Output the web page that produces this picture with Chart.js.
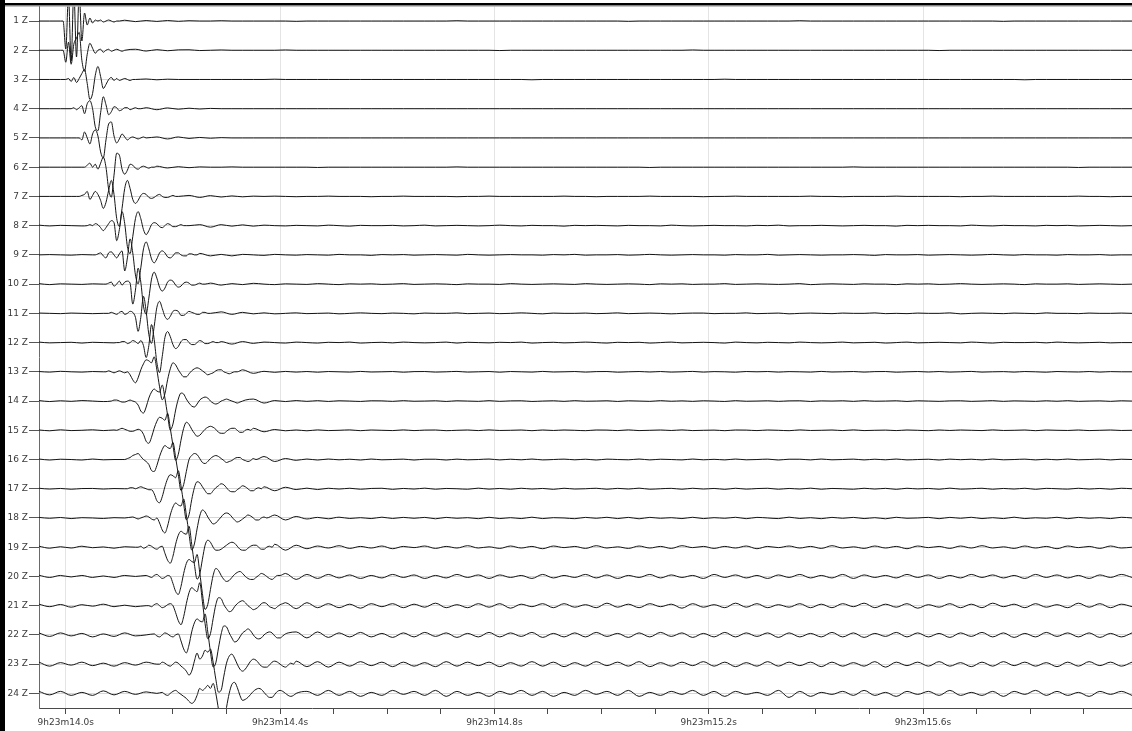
<!DOCTYPE html>
<html>
<head>
<meta charset="utf-8">
<script src="https://cdn.jsdelivr.net/npm/chart.js@4.4.1/dist/chart.umd.min.js"></script>
<style>
  html, body { margin: 0; padding: 0; background: #fff; }
  #wrap { position: relative; width: 1132px; height: 731px; }
  canvas { display: block; }
</style>
</head>
<body>
<div id="wrap"><canvas id="record" width="1132" height="731"></canvas></div>
<script>
// Time window, seconds after 9h23m
const timeMin = 13.95;
const timeMax = 15.99;
const tickTimes = [14.0, 14.1, 14.2, 14.3, 14.4, 14.5, 14.6, 14.7, 14.8, 14.9,
                   15.0, 15.1, 15.2, 15.3, 15.4, 15.5, 15.6, 15.7, 15.8, 15.9];
const labelTimes = [14.0, 14.4, 14.8, 15.2, 15.6];
const timeTickLabels = ['9h23m14.0s', '9h23m14.4s', '9h23m14.8s', '9h23m15.2s', '9h23m15.6s'];

const traceLabels = ['1 Z', '2 Z', '3 Z', '4 Z', '5 Z', '6 Z', '7 Z', '8 Z', '9 Z', '10 Z', '11 Z', '12 Z',
                     '13 Z', '14 Z', '15 Z', '16 Z', '17 Z', '18 Z', '19 Z', '20 Z', '21 Z', '22 Z', '23 Z', '24 Z'];

// Sampling: background noise every 20 ms, arrivals every 5 ms
const noiseStep = 0.02;
const waveStep = 0.005;
// first sample time of each arrival window
const waveStart = [13.995, 13.995, 14.000, 14.010, 14.020, 14.035, 14.020, 14.040, 14.055, 14.070, 14.080, 14.095,
                   14.070, 14.085, 14.095, 14.105, 14.115, 14.125, 14.135, 14.150, 14.155, 14.165, 14.175, 14.180];

// Amplitudes (normalised units, positive = up); pre starts at timeMin, post ends at timeMax
const z01pre = [0, 0, 0];
const z01wave = [0, -28, 25, -40, 30, -36, 28, -20, 8, -4, 3, -2, 1, 0, 1, -1, 0, 1, 0, -1, 0, 0];
const z01post = [0.8, -0.6, 0.5, -0.4, 0.5, -0.3, 0.3, 0, 0, 0.3, 0, 0, 0, 0, 0, 0, -0.3, 0, 0, 0,
  0, 0, 0, 0, 0, 0, 0, 0, 0, 0, 0, 0.3, 0, 0, 0, 0, 0, 0, 0, 0, 0, 0, 0, 0, 0, 0, 0, -0.3, 0, 0,
  0, 0, 0, 0, 0, 0, 0, 0, 0, 0, 0, 0, 0, 0.3, 0, 0, 0, 0, 0, 0, 0, 0, 0, 0, 0, 0, 0, 0, 0, 0,
  0, 0, -0.3, 0, 0, 0, 0, 0, 0, 0, 0, 0, 0, 0, 0];

const z02pre = [0, 0, 0];
const z02wave = [0, -12, 8, -14, 6, 12, 18, -10, -21, -4, 7, 2, -3, 0, 1, -2, 0, 1, -1, 0, 1, 0, -1, 0];
const z02post = [1, -0.8, 0.6, -0.5, 0.4, 0.5, -0.3, 0, 0.3, 0, 0, 0, 0, 0, 0.3, 0, 0, 0, 0, 0,
  0, 0, 0, 0, 0, 0, 0, 0, 0, 0, 0, 0, 0, 0, -0.3, 0, 0, 0, 0, 0, 0, 0, 0, 0, 0, 0, 0, 0, 0, 0,
  0, 0, 0.3, 0, 0, 0, 0, 0, 0, 0, 0, 0, 0, 0, 0, 0, 0, 0, 0, 0, 0, 0, 0, 0, 0, -0.3, 0, 0, 0, 0,
  0, 0, 0, 0, 0, 0, 0, 0, 0, 0, 0, 0, 0, 0];

const z03pre = [0, 0, 0];
const z03wave = [0, 1, -2, 2, -3, 1, 6, 10, -4, -20, -14, 4, 13, 3, -9, -5, 0, 2, -1, 1, -1, 0, 1, 0, -1, 0, 0];
const z03post = [0.5, -0.3, 0.3, 0, 0, 0, 0, 0, 0, 0, 0, 0, 0.3, 0, 0, 0, 0, 0, 0, 0,
  0, 0, 0, 0, 0, 0, 0, 0, 0, 0, 0, 0, 0, 0, 0, 0, -0.3, 0, 0, 0, 0, 0, 0, 0, 0, 0, 0, 0, 0, 0,
  0, 0, 0, 0, 0.3, 0, 0, 0, 0, 0, 0, 0, 0, 0, 0, 0, 0, 0, 0, 0, 0, 0, 0, 0, 0, 0, 0, 0, 0, 0,
  0, 0, -0.3, 0, 0, 0, 0, 0, 0, 0, 0, 0, 0];

const z04pre = [0, 0, 0];
const z04wave = [0, 1, -1, 1, 3, -5, 5, 8, 0, -18, -22, -4, 12, 4, -6, -3, 2, 1, -2, -1, 1, 1, -1, 0, 1, 0, 0];
const z04post = [1, -1, 0.8, -0.5, 0.5, -0.3, 0.3, 0, 0, 0, 0, 0, 0, 0, 0, 0, 0, 0, 0, 0,
  0, 0, 0, 0, 0, 0, 0, 0, 0, 0, 0, 0, 0, 0, 0, 0, 0, 0, 0, 0, 0, 0, 0, 0, 0, 0, 0, 0, 0, 0,
  0, 0, 0, 0, 0, 0, 0, 0, 0, 0, 0, 0, 0, 0, 0, 0, 0, 0, 0, 0, 0, 0, 0, 0, 0, 0, 0, 0, 0, 0,
  0, 0, 0, 0, 0, 0, 0, 0, 0, 0, 0, 0, 0];

const z05pre = [0, 0, 0, 0];
const z05wave = [0, 0, -2, 6, 0, -6, 4, 8, 2, -14, -20, -2, 14, 16, 2, -5, -1, 4, 1, -2, 0, 1, 0, -1, 0, 1, 0];
const z05post = [1, -1, 1, -0.5, 0.5, -0.3, 0.3, 0, 0, 0, 0, 0, 0, 0, 0, 0, 0, 0, 0, 0,
  0, 0, 0, 0, 0, 0, 0, 0, 0, 0, 0, 0, 0, 0, 0, 0, 0, 0, 0, 0, 0, 0, 0, 0, 0, 0, 0, 0, 0, 0,
  0, 0, 0, 0, 0, 0, 0, 0, 0, 0, 0, 0, 0, 0, 0, 0, 0, 0, 0, 0, 0, 0, 0, 0, 0, 0, 0, 0, 0, 0,
  0, 0, 0, 0, 0, 0, 0, 0, 0, 0, 0, 0];

const z06pre = [0, 0, 0, 0, 0];
const z06wave = [0, 2, 4, 0, 3, -2, 4, 10, 0, -22, -30, -8, 14, 12, -2, -7, -3, 3, 2, -1, -2, 0, 1, 0, -1, 0, 0];
const z06post = [1, -0.8, 0.5, -0.5, 0.3, 0, 0, 0.3, 0, 0, 0, 0, 0, 0, 0, -0.3, 0, 0, 0, 0,
  0, 0, 0, 0, 0, 0, 0, 0, 0.3, 0, 0, 0, 0, 0, 0, 0, 0, 0, 0, 0, 0, 0, 0, 0, 0, 0, -0.3, 0, 0, 0,
  0, 0, 0, 0, 0, 0, 0, 0, 0, 0, 0, 0, 0, 0, 0, 0.3, 0, 0, 0, 0, 0, 0, 0, 0, 0, 0, 0, 0, 0, 0,
  0, 0, 0, 0, 0, 0, -0.3, 0, 0, 0, 0, 0];

const z07pre = [0, 0, 0, 0];
const z07wave = [0, 0, 1, 2, 5, -3, 1, 5, 2, -4, -12, -6, 6, 16, 2, -22, -30, -12, 8, 16, 8, -3, -7, -4, 1, 3, 2, -1, -2, -1, 1, 2, 0, -1, -1, 0, 1, 0, 0];
const z07post = [1, -1, 0.8, -0.6, 0.5, -0.4, 0.3, 0, 0.3, 0, -0.3, 0, 0, 0.3, 0, 0, 0, -0.3, 0, 0,
  0.3, 0, 0, 0, 0, -0.3, 0, 0, 0.3, 0, 0, 0, 0, 0, 0, 0.3, 0, 0, -0.3, 0, 0, 0, 0, 0.3, 0, 0, 0, 0, -0.3, 0,
  0, 0.3, 0, 0, 0, 0, 0, 0, 0.3, 0, 0, -0.3, 0, 0, 0, 0, 0.3, 0, 0, 0, 0, 0, -0.3, 0, 0, 0.3, 0, 0, 0, 0,
  0, 0, 0, 0.3, 0, 0, -0.3, 0, 0];

const z08pre = [0.5, -0.3, 0.3, 0, -0.3];
const z08wave = [0, 1, 0, 2, 1, -2, -5, -2, 2, 5, 3, -15, -4, 14, 2, -21, -28, -11, 7, 14, 7, -4, -9, -5, 1, 3, 2, -1, -2, 0, 2, 1, -1, -1, 0, 1, 0, 0, 0];
const z08post = [1, -1.5, 1, -0.5, 0.8, -0.5, 0.5, 0, -0.3, 0.3, 0, -0.3, 0.5, 0, -0.5, 0.3, 0, 0, 0.3, -0.3,
  0, 0.5, -0.3, 0, 0.3, 0, -0.3, 0, 0.5, 0, -0.3, 0.3, 0, 0, -0.5, 0.3, 0, 0.3, 0, -0.3,
  0.3, 0, 0, -0.3, 0.5, 0, -0.3, 0, 0.3, 0, 0, -0.3, 0.3, 0, 0.5, -0.3, 0, 0, 0.3, 0,
  -0.3, 0, 0.3, 0, 0, -0.5, 0.3, 0, 0.3, 0, 0, -0.3, 0.5, 0, -0.3, 0.3, 0, 0, -0.3, 0.3,
  0, 0.3, -0.3, 0, 0.3, 0, -0.3, 0];

const z09pre = [0, 0.3, 0, -0.3, 0.3, 0];
const z09wave = [0, 1, 2, -1, -3, 2, 3, 0, -3, 1, 4, -16, -3, 16, 2, -20, -29, -13, 6, 13, 6, -4, -8, -4, 2, 4, 2, -2, -3, -1, 2, 2, 0, -1, -1, 1, 1, 0, 0];
const z09post = [1.5, -1, 0.5, -1, 0.5, 0, -0.5, 0.5, 0, -0.3, 0.3, 0, -0.3, 0.5, 0, 0, -0.5, 0.3, 0, 0.3,
  -0.3, 0, 0.3, 0, -0.3, 0.5, 0, -0.3, 0, 0.3, 0, 0, -0.3, 0.3, 0, 0.5, -0.3, 0, 0, 0.3,
  -0.3, 0, 0.5, 0, -0.3, 0, 0.3, 0, 0, -0.3, 0.3, 0, 0, 0.5, -0.3, 0, 0.3, 0, -0.3, 0,
  0, 0.3, 0, -0.5, 0.3, 0, 0, 0.3, -0.3, 0, 0.3, 0, -0.3, 0, 0.5, 0, -0.3, 0.3, 0, 0,
  -0.3, 0.3, 0, 0, 0.3, -0.3, 0, 0];

const z10pre = [0.5, -0.5, 0.3, 0, -0.3, 0.3];
const z10wave = [0, 0, 1, 2, -2, 0, 3, -1, 2, 3, 1, -20, -6, 16, 2, -22, -30, -14, 5, 12, 6, -3, -7, -4, 2, 4, 3, -1, -3, -2, 1, 2, 1, -1, -1, 0, 1, 0, 0];
const z10post = [1, -1, 0.5, -0.5, 0.8, 0, -0.5, 0.3, 0, -0.3, 0.5, 0, -0.5, 0.3, 0, 0.3, -0.3, 0, 0.5, -0.3,
  0, 0.3, 0, -0.5, 0.3, 0, 0, -0.3, 0.5, 0, -0.3, 0, 0.3, 0, -0.3, 0.5, 0, -0.3, 0, 0.3,
  0, -0.5, 0.3, 0, 0.3, -0.3, 0, 0, 0.5, -0.3, 0, 0.3, 0, -0.3, 0, 0.5, -0.5, 0, 0.3, 0,
  -0.3, 0.3, 0, 0, -0.5, 0.3, 0, 0.3, -0.3, 0, 0.5, 0, -0.3, 0, 0.3, 0, -0.5, 0.3, 0, 0,
  0.3, -0.3, 0, 0.3, 0, -0.3, 0];

const z11pre = [0.3, 0, -0.3, 0.3, 0, -0.3, 0];
const z11wave = [0, 1, 0, -1, 1, 2, -1, 0, 2, 1, -4, -18, -4, 17, 2, -21, -30, -13, 6, 12, 5, -3, -6, -3, 2, 3, 2, -2, -2, 0, 2, 1, 0, -1, -1, 1, 1, 0, 0];
const z11post = [1.5, -1, 1, -0.5, 0.5, -0.5, 0, 0.5, -0.3, 0, 0.3, -0.5, 0, 0.5, 0, -0.3, 0.3, 0, -0.5, 0.3,
  0, 0, 0.5, -0.3, 0, 0.3, -0.3, 0, 0.5, 0, -0.5, 0.3, 0, 0, 0.3, -0.3, 0, 0.5, -0.3, 0,
  0.3, 0, -0.5, 0, 0.3, 0.3, -0.3, 0, 0, 0.5, -0.3, 0, 0.3, -0.5, 0, 0.3, 0, -0.3, 0.3, 0,
  0, 0.5, -0.3, 0, -0.3, 0.3, 0, 0, 0.5, -0.5, 0, 0.3, 0, -0.3, 0.3, 0, -0.3, 0.5, 0, 0,
  -0.3, 0.3, 0, 0, 0.3, 0];

const z12pre = [0.5, -0.3, 0, 0.3, -0.5, 0.3, 0, -0.3];
const z12wave = [0, 0, 1, 1, -1, 0, 2, 1, -1, 2, -3, -15, -3, 18, 3, -20, -30, -14, 5, 11, 6, -2, -6, -4, 1, 3, 3, 0, -2, -2, 0, 2, 1, -1, -1, 0, 1, 0, 0];
const z12post = [1, -1.5, 1, -0.8, 0.5, 0, -0.5, 0.5, 0, -0.5, 0.3, 0, 0.5, -0.5, 0, 0.3, -0.3, 0.5, 0, -0.3,
  0, 0.5, -0.5, 0.3, 0, -0.3, 0.3, 0, 0.5, -0.5, 0, 0.3, -0.3, 0, 0.5, 0, -0.5, 0.3, 0, 0.3,
  -0.5, 0, 0.5, -0.3, 0, 0.3, 0, -0.5, 0.5, 0, -0.3, 0.3, 0, -0.3, 0.5, 0, -0.3, 0, 0.5, -0.3,
  0, 0.3, -0.5, 0, 0.5, -0.3, 0, 0.3, 0, -0.3, 0.5, 0, -0.5, 0.3, 0, 0, 0.3, -0.3, 0.5, 0,
  -0.3, 0, 0.3, -0.3, 0, 0];

const z13pre = [0.3, -0.3, 0.5, 0, -0.3, 0.3];
const z13wave = [0, 0, 1, 0, -1, 0, 1, 0, -1, 0, -3, -8, -11, -6, 2, 8, 12, 11, 9, 15,
  2, -15, -28, -22, -8, 3, 9, 7, 2, -2, -5, -5, -2, 1, 3, 4, 3, 1, -1, -3, -2, -1, 1, 2, 2, 0, -1, -2, -1, 0, 0];
const z13post = [2, -1.5, 0.5, -0.5, 0.4, -0.3, 0.3, -0.4, 0.3, 0, -0.3, 0.4, -0.2, 0, 0.3, -0.4, 0.2, 0.3, -0.3, 0,
  0.4, -0.3, 0, 0.3, -0.4, 0.3, 0, -0.3, 0.4, -0.2, 0, 0.3, -0.3, 0.2, 0.3, -0.4, 0, 0.3, -0.2, 0.3,
  -0.3, 0, 0.4, -0.3, 0.2, 0, -0.4, 0.3, 0, 0.3, -0.3, 0.2, 0, -0.3, 0.4, -0.2, 0, 0.3, -0.3, 0.2,
  0.3, -0.4, 0, 0.3, -0.2, 0.3, -0.3, 0, 0.4, -0.3, 0, 0.2, -0.3, 0.3, 0, -0.4, 0.3, 0, -0.2, 0.3,
  -0.3, 0.2, 0, 0];

const z14pre = [0.5, -0.5, 0.3, -0.3, 0.5, 0, -0.5];
const z14wave = [0, 1, 1, 0, -1, -1, 0, 1, 0, -1, -4, -10, -12, -6, 3, 9, 12, 10, 9, 16,
  3, -14, -29, -23, -9, 2, 8, 7, 2, -2, -5, -6, -3, 1, 3, 4, 3, 0, -2, -3, -2, 0, 1, 2, 1, 0, -1, -2, -1, 0, 1];
const z14post = [2, -2, 0.5, -0.5, 0.5, -0.3, 0.4, -0.4, 0.3, 0, -0.4, 0.3, 0.2, -0.3, 0.4, -0.2, 0, 0.3, -0.4, 0.3,
  0, -0.3, 0.4, -0.3, 0.2, 0.3, -0.4, 0, 0.3, -0.3, 0.4, -0.2, 0, 0.3, -0.4, 0.3, 0, -0.3, 0.4, -0.2,
  0.2, -0.3, 0.3, 0, -0.4, 0.4, -0.2, 0, 0.3, -0.3, 0.2, 0.3, -0.4, 0.2, 0, 0.3, -0.3, 0.4, -0.2, 0,
  0.3, -0.4, 0.3, 0, -0.3, 0.2, 0.3, -0.3, 0, 0.4, -0.3, 0.2, 0, -0.3, 0.3, -0.2, 0.4, -0.3, 0, 0.2,
  -0.3, 0.3, 0];

const z15pre = [0.3, -0.5, 0.5, -0.3, 0, 0.5, -0.3, 0.3];
const z15wave = [0, 1, 2, 1, 0, -1, -1, 0, 1, 0, -4, -11, -13, -7, 2, 9, 13, 12, 10, 17,
  2, -15, -30, -24, -10, 2, 8, 6, 1, -3, -6, -5, -2, 1, 3, 4, 3, 1, -2, -3, -3, -1, 1, 2, 2, 0, -2, -2, 0, 1, 0];
const z15post = [2, -1.5, 0.8, -0.5, 0.3, -0.5, 0.4, -0.3, 0, 0.4, -0.4, 0.3, 0, -0.3, 0.4, -0.3, 0.2, 0.3, -0.4, 0,
  0.3, -0.3, 0.4, -0.2, 0, 0.3, -0.4, 0.3, -0.2, 0.3, 0, -0.4, 0.3, 0.2, -0.3, 0.4, -0.3, 0, 0.3, -0.2,
  0.4, -0.3, 0, 0.2, -0.4, 0.3, 0.2, -0.3, 0.3, 0, -0.4, 0.4, -0.2, 0, 0.3, -0.3, 0.4, -0.3, 0, 0.2,
  -0.3, 0.3, 0, -0.4, 0.3, -0.2, 0.3, 0, -0.3, 0.4, -0.2, 0, 0.3, -0.4, 0.3, 0, -0.2, 0.3, -0.3, 0,
  0.3, -0.2, 0];

const z16pre = [0.5, -0.5, 0.3, 0, -0.5, 0.5, -0.3, 0];
const z16wave = [0, 0, 1, 2, 4, 5, 6, 3, 0, -2, -5, -11, -12, -6, 3, 10, 14, 12, 11, 17,
  2, -15, -31, -25, -12, 0, 4, 6, 5, 1, -3, -4, -2, 1, 3, 4, 3, 1, -1, -3, -2, -1, 1, 2, 2, 0, -1, -2, -1, 1, 0];
const z16post = [3, -2, 1, -0.8, 0.5, -0.5, 0.5, -0.3, 0.3, -0.5, 0.5, -0.3, 0, 0.4, -0.5, 0.3, 0.3, -0.5, 0.4, -0.3,
  0, 0.5, -0.4, 0.3, -0.3, 0.5, -0.4, 0, 0.4, -0.3, 0.3, -0.5, 0.4, 0, -0.3, 0.5, -0.4, 0.3, 0, -0.4,
  0.5, -0.3, 0.2, -0.4, 0.5, -0.3, 0, 0.4, -0.5, 0.3, 0.3, -0.4, 0.5, -0.3, 0, 0.4, -0.4, 0.3, -0.3, 0.5,
  -0.4, 0, 0.3, -0.5, 0.4, -0.2, 0.3, -0.4, 0.5, -0.3, 0, 0.4, -0.4, 0.3, -0.3, 0.5, -0.3, 0, 0.4, -0.4,
  0.3, 0];

const z17pre = [0.5, -0.3, 0.3, -0.5, 0.2, 0.3, -0.3, 0.2, 0];
const z17wave = [0, 1, 1, 0, 1, 2, 1, 0, -1, -1, -5, -12, -14, -8, 2, 10, 14, 13, 11, 18,
  3, -15, -31, -26, -11, 1, 7, 6, 2, -2, -5, -5, -2, 1, 3, 5, 4, 1, -2, -3, -3, -1, 1, 3, 2, 0, -2, -2, 0, 1, 0];
const z17post = [2, -2, 1.5, -0.8, 0.6, -0.8, 0.5, -0.3, 0.5, -0.5, 0.3, 0.5, -0.6, 0.3, -0.3, 0.6, -0.5, 0.3, 0, -0.5,
  0.6, -0.4, 0.3, -0.5, 0.5, -0.3, 0.3, -0.6, 0.5, -0.3, 0, 0.5, -0.5, 0.4, -0.3, 0.6, -0.5, 0, 0.4, -0.5,
  0.5, -0.3, 0.3, -0.6, 0.5, -0.4, 0.2, 0.5, -0.5, 0.3, -0.3, 0.6, -0.5, 0.3, 0, -0.5, 0.5, -0.3, 0.4, -0.6,
  0.5, -0.2, 0.3, -0.5, 0.6, -0.4, 0, 0.5, -0.5, 0.3, -0.3, 0.5, -0.6, 0.4, 0, -0.4, 0.5, -0.3, 0.3, -0.5,
  0.5, 0];

const z18pre = [0.6, -0.3, 0.5, -0.6, 0.3, 0, -0.5, 0.3, 0];
const z18wave = [1, 0, -1, 0, 1, 2, 1, -1, -2, 0, -5, -12, -15, -8, 3, 11, 15, 13, 12, 19,
  3, -16, -32, -26, -11, 2, 8, 6, 1, -3, -6, -5, -2, 1, 4, 5, 4, 1, -2, -4, -3, -1, 1, 3, 2, 0, -2, -2, 0, 1, 0];
const z18post = [3, -2, 1.5, -1, 0.6, -0.8, 0.8, -0.5, 0.3, -0.6, 0.8, -0.5, 0.6, -0.3, 0.6, -0.8, 0.6, -0.3, 0.3, -0.7,
  0.7, -0.6, 0.3, -0.6, 0.8, -0.6, 0.3, 0, -0.7, 0.6, -0.3, 0.7, -0.6, 0.6, -0.8, 0.6, -0.3, 0.3, -0.6, 0.7,
  -0.6, 0.3, -0.3, 0.7, -0.7, 0.6, 0, -0.6, 0.8, -0.5, 0.3, -0.7, 0.6, -0.3, 0.6, -0.6, 0.3, -0.8, 0.7, -0.3,
  0, 0.6, -0.7, 0.6, -0.3, 0.7, -0.6, 0.3, -0.6, 0.8, -0.6, 0.2, -0.3, 0.7, -0.7, 0.6, -0.3, 0.3, -0.6, 0.7,
  0];

const z19pre = [1, -1, 0.5, -0.8, 1, -0.5, 0.3, -1, 0.5, 0];
const z19wave = [0, 1, -1, 0, 2, 1, -1, -2, 0, 1, -6, -13, -16, -9, 3, 12, 16, 14, 13, 21,
  3, -17, -32, -27, -12, 2, 7, 5, 0, -3, -3, -2, 0, 2, 4, 5, 4, 1, -2, -3, -3, -1, 1, 2, 2, 0, -2, -2, 0, 1, 0];
const z19post = [3, -3, 2, -1.5, 1.2, -0.8, 1.5, -1.2, 0.8, -0.8, 1.2, -1.5, 0.8, -0.4, 1.2, -1.2, 0.8, -0.8, 1.5, -0.8,
  0.4, -1.2, 1.2, -0.8, 0.8, -1.5, 1.2, -0.4, 0.8, -1.2, 1.5, -0.8, 0.4, -1.2, 1.2, -0.8, 0.8, -1.2, 1.5, -0.4,
  0.8, -1.2, 0.8, -0.8, 1.2, -1.5, 0.8, -0.4, 1.2, -0.8, 0.8, -1.2, 1.5, -0.8, 0.4, -1.2, 1.2, -0.8, 0.8, -1.5,
  1.2, -0.4, 0.8, -1.2, 1.2, -0.8, 1.5, -0.8, 0.4, -1.2, 1.2, -0.8, 0.8, -1.5, 1.2, -0.4, 0.8, -1.2, 1.2, -0.8,
  0];

const z20pre = [1.2, -1, 1, -0.5, 1, -1, 0.5, -1, 1, 0];
const z20wave = [1, 0, -1, 1, 2, 0, -2, -1, 1, 0, -7, -15, -18, -10, 3, 13, 17, 15, 14, 22,
  4, -17, -33, -28, -13, 1, 8, 6, 1, -3, -5, -4, -1, 2, 4, 5, 3, 0, -2, -3, -3, -1, 1, 3, 2, 0, -2, -3, -1, 1, 1];
const z20post = [3, -3, 2, -2, 2, -1.5, 1.5, -2, 1, -1.5, 2, -1, 1.5, -2, 1, -1.5, 2, -1, 1.5, -2,
  1.5, -1, 1, -2, 2, -1.5, 1, -1, 2, -1.5, 1.5, -2, 1, -1, 2, -1.5, 1.5, -1, 1, -2,
  2, -1, 1.5, -1.5, 1, -2, 1.5, -1, 2, -1.5, 1, -1.5, 2, -2, 1.5, -1, 1, -1.5, 2, -1,
  1.5, -2, 1, -1.5, 2, -1, 1.5, -1.5, 1, -2, 2, -1, 1.5, -1.5, 1, -2, 1.5, -1, 2, -1];

const z21pre = [1.5, -1, 1.2, -1.5, 1, -0.5, 1.5, -1, 0.5, -1, 0];
const z21wave = [0, -1, 1, 2, 0, -2, -1, 1, 2, 0, -7, -15, -19, -11, 2, 13, 18, 16, 14, 23,
  4, -18, -33, -28, -13, 1, 8, 7, 1, -3, -6, -5, -1, 2, 4, 5, 3, 0, -2, -4, -3, -1, 2, 3, 2, -1, -2, -3, -1, 1, 2];
const z21post = [3, -3, 3, -2, 2, -2, 1.5, -2.5, 2, -1, 2, -2, 1.5, -1.5, 2.5, -2, 1, -2, 2, -1.5,
  2, -2.5, 1.5, -1, 2, -2, 2, -1.5, 1, -2, 2.5, -1.5, 1.5, -2, 2, -1, 1.5, -2.5, 2, -1.5,
  1, -2, 2.5, -1.5, 2, -2, 1, -1.5, 2, -2, 1.5, -2, 2, -1, 2.5, -2, 1.5, -1.5, 2, -2.5,
  1, -1.5, 2, -2, 1.5, -2, 2.5, -1, 1.5, -2, 2, -1.5, 1, -2, 2.5, -1.5, 2, -2, 1.5, -1];

const z22pre = [2, -1.5, 2, -1, 1.5, -2, 1, -1.5, 2, -1, 0];
const z22wave = [1, -1, -2, 0, 2, 1, -1, -2, 0, 1, -6, -14, -18, -10, 3, 12, 16, 14, 13, 21,
  3, -17, -32, -28, -13, 1, 9, 8, 2, -3, -7, -6, -2, 2, 4, 6, 4, 0, -3, -4, -3, 0, 2, 3, 2, -1, -3, -3, -1, 1, 2];
const z22post = [3, -3, 3, -2.5, 2, -2, 2.5, -2, 1.5, -2.5, 2, -2, 2.5, -1.5, 2, -2.5, 1.5, -2, 2.5, -2,
  2, -1.5, 2.5, -2.5, 1.5, -2, 2, -2, 2.5, -1.5, 1.5, -2.5, 2, -2, 2.5, -1.5, 2, -2.5, 1.5, -2,
  2.5, -2, 2, -1.5, 2, -2.5, 2, -2, 1.5, -2, 2.5, -2, 2, -2.5, 1.5, -1.5, 2.5, -2, 2, -2,
  1.5, -2.5, 2, -1.5, 2.5, -2, 2, -2.5, 1.5, -2, 2.5, -1.5, 2, -2, 2, -2.5, 1.5, -2, 2];

const z23pre = [2, -2, 1.5, -1, 2, -1.5, 1, -2, 1.5, -1, 2, 0];
const z23wave = [0, 2, 1, -1, -2, 0, 2, 1, -2, -4, -7, -11, -7, 3, 11, 5, 8, 14, 12, 15,
  2, -15, -28, -26, -12, 1, 8, 10, 6, 0, -5, -7, -5, -1, 3, 5, 4, 1, -2, -3, -3, -1, 2, 3, 2, 0, -2, -3, -1, 1, 0];
const z23post = [3, -2.5, 2.5, -3, 2, -2, 2.5, -1.5, 2, -2.5, 2, -2, 1.5, -2.5, 2.5, -2, 2, -1.5, 2, -2.5,
  1.5, -2, 2.5, -2, 2, -2.5, 1.5, -2, 2.5, -1.5, 2, -2, 2.5, -2.5, 1.5, -2, 2, -1.5, 2.5, -2,
  2, -2.5, 1.5, -2, 2.5, -2, 2, -1.5, 2, -2.5, 2, -2, 1.5, -2, 2.5, -3, 2, -1.5, 2, -2,
  2.5, -2, 1.5, -2.5, 2, -2, 2.5, -1.5, 2, -2, 1.5, -2.5, 2, -2, 2.5, -1.5, 2, -2, 2];

const z24pre = [2, -1.5, 2, -2, 1, -2, 2.5, -1.5, 2, -1, 1.5, 0];
const z24wave = [1, -1, -2, 0, 2, 3, 1, -1, -3, -5, -8, -10, -8, -2, 5, 3, 5, 8, 5, 10,
  0, -16, -32, -30, -14, 0, 9, 11, 6, -2, -7, -6, -4, -1, 2, 4, 5, 4, 1, -2, -4, -4, -1, 2, 3, 2, 0, -2, -3, -2, 0];
const z24post = [2, -2, 3, -2, 2, -3, 1, -2, 3, -1, 2, -2, 3, -3, 2, -2, 1, -3, 2, -1,
  3, -2, 2, -3, 1, -2, 3, -1, 2, -2, 3, -3, 1, -2, 2, -1, 3, -2, 2, -3,
  2, -1, 1, -2, 3, -4, 2, -3, 1, -1, 2, -2, 3, -2, 1, -3, 2, -1, 2, -2,
  3, -2, 1, -2, 2, -3, 2, -1, 3, -2, 2, -2, 1, -3, 2, -1, 2, -2];

const tracePre = [z01pre, z02pre, z03pre, z04pre, z05pre, z06pre, z07pre, z08pre, z09pre, z10pre, z11pre, z12pre,
                  z13pre, z14pre, z15pre, z16pre, z17pre, z18pre, z19pre, z20pre, z21pre, z22pre, z23pre, z24pre];
const traceWave = [z01wave, z02wave, z03wave, z04wave, z05wave, z06wave, z07wave, z08wave, z09wave, z10wave, z11wave, z12wave,
                   z13wave, z14wave, z15wave, z16wave, z17wave, z18wave, z19wave, z20wave, z21wave, z22wave, z23wave, z24wave];
const tracePost = [z01post, z02post, z03post, z04post, z05post, z06post, z07post, z08post, z09post, z10post, z11post, z12post,
                   z13post, z14post, z15post, z16post, z17post, z18post, z19post, z20post, z21post, z22post, z23post, z24post];

// one trace spacing per 29.25 amplitude units
const gain = 1 / 29.25;

function buildTrace(i) {
  const t0 = waveStart[i];
  const wave = traceWave[i];
  const tEnd = t0 + waveStep * (wave.length - 1);
  const samples = [];
  tracePre[i].forEach((v, j) => {
    const t = timeMin + noiseStep * j;
    if (t < t0 - 1e-6) samples.push([t, v]);
  });
  wave.forEach((v, j) => samples.push([t0 + waveStep * j, v]));
  const post = tracePost[i];
  post.forEach((v, j) => {
    const t = timeMax - noiseStep * (post.length - 1 - j);
    if (t > tEnd + 1e-6) samples.push([t, v]);
  });
  return samples.map(([t, v]) => ({ x: t, y: (i + 1) - v * gain }));
}

const datasets = traceLabels.map((label, i) => ({
  label,
  data: buildTrace(i),
  borderColor: '#151515',
  borderWidth: 1,
  pointRadius: 0,
  fill: false,
  cubicInterpolationMode: 'monotone'
}));

const isLabelTime = v => labelTimes.some(t => Math.abs(t - v) < 1e-6);

// window frame: heavy left and top edges
const framePlugin = {
  id: 'frame',
  beforeDraw(chart) {
    const c = chart.ctx;
    c.save();
    c.fillStyle = '#ffffff';
    c.fillRect(0, 0, chart.width, chart.height);
    c.restore();
  },
  afterDraw(chart) {
    const c = chart.ctx;
    c.save();
    c.fillStyle = '#000000';
    c.fillRect(0, 0, 5, chart.height);
    c.fillRect(0, 3, chart.width, 2.5);
    c.fillStyle = '#8c8c8c';
    c.fillRect(5, 5.5, chart.width - 5, 1);
    c.restore();
  }
};

const axisFont = { family: 'DejaVu Sans', size: 9 };

new Chart(document.getElementById('record'), {
  type: 'line',
  data: { datasets },
  options: {
    responsive: false,
    animation: false,
    devicePixelRatio: 1,
    events: [],
    layout: { padding: { top: 6, right: 0, bottom: 0, left: 0 } },
    plugins: { legend: { display: false }, tooltip: { enabled: false } },
    scales: {
      x: {
        type: 'linear',
        min: timeMin,
        max: timeMax,
        afterBuildTicks(scale) { scale.ticks = tickTimes.map(v => ({ value: v })); },
        afterFit(scale) { scale.height = 23; },
        ticks: {
          autoSkip: false,
          maxRotation: 0,
          minRotation: 0,
          padding: 3,
          color: '#3a3a3a',
          font: axisFont,
          callback(value) {
            const k = labelTimes.findIndex(t => Math.abs(t - value) < 1e-6);
            return k >= 0 ? timeTickLabels[k] : '';
          }
        },
        grid: {
          color: c => (c.tick && isLabelTime(c.tick.value)) ? '#e4e4e4' : 'rgba(0,0,0,0)',
          tickColor: '#4a4a4a',
          tickLength: 6,
          lineWidth: 1
        },
        border: { display: true, color: '#4a4a4a', width: 1 }
      },
      y: {
        type: 'linear',
        reverse: true,
        min: 0.5,
        max: 24.5,
        afterBuildTicks(scale) { scale.ticks = traceLabels.map((_, i) => ({ value: i + 1 })); },
        afterFit(scale) { scale.width = 39; },
        ticks: {
          autoSkip: false,
          padding: 1,
          color: '#3a3a3a',
          font: axisFont,
          callback(value) { return traceLabels[Math.round(value) - 1]; }
        },
        grid: {
          color: '#d6d6d6',
          tickColor: '#555555',
          tickLength: 10,
          lineWidth: 1
        },
        border: { display: true, color: '#6a6a6a', width: 1 }
      }
    }
  },
  plugins: [framePlugin]
});
</script>
</body>
</html>
